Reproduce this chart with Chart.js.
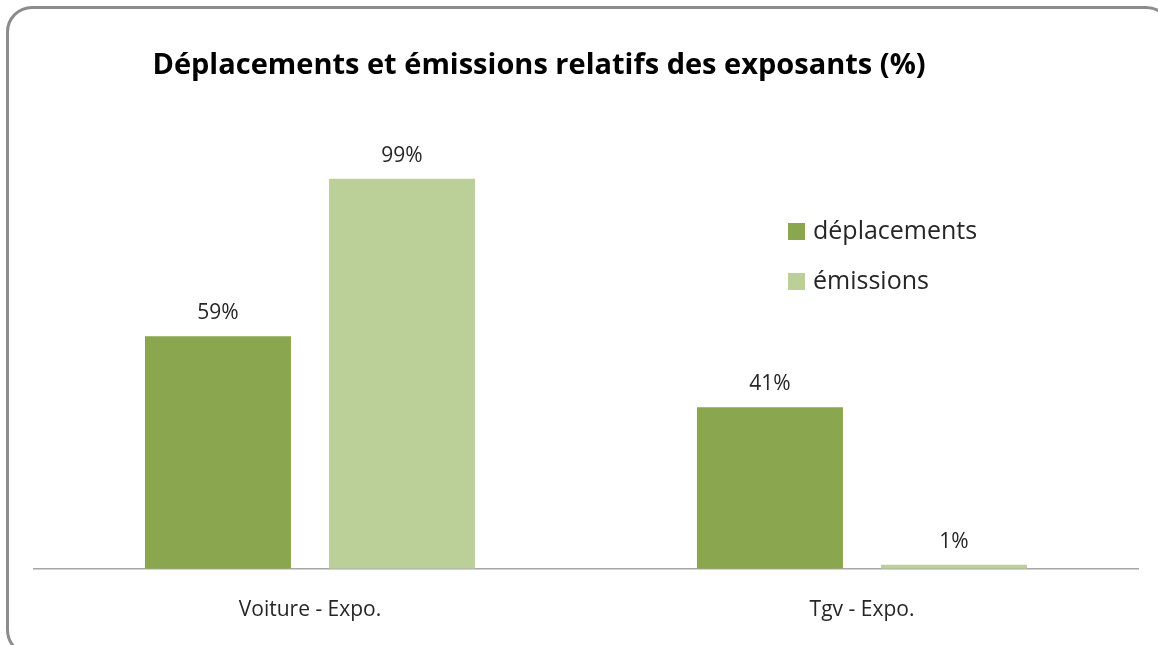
<!DOCTYPE html>
<html>
<head>
<meta charset="utf-8">
<script src="https://cdn.jsdelivr.net/npm/chart.js@4.4.0/dist/chart.umd.min.js"></script>
<style>
  html, body { margin:0; padding:0; background:#fff; overflow:hidden; }
  #wrap { position:relative; width:1158px; height:645px; overflow:hidden; }
  #frame { position:absolute; left:6px; top:6px; width:1166px; height:650px; border:3px solid #8c8c8c; border-radius:26px; box-sizing:border-box; }
  canvas { position:absolute; left:0; top:0; }
</style>
</head>
<body>
<div id="wrap">
  <div id="frame"></div>
  <canvas id="chart" width="1158" height="660"></canvas>
</div>
<script>
// data
const categories = ['Voiture - Expo.', 'Tgv - Expo.'];
const deplacements = [59, 41];
const emissions    = [99, 1];
const seriesNames  = ['déplacements', 'émissions'];
const TITLE = 'Déplacements et émissions relatifs des exposants (%)';

const DARK  = '#8aa64f';
const LIGHT = '#bbcf98';
const FONT  = '"Open Sans", "Noto Sans", sans-serif';

// title, value labels and legend, drawn on the canvas
const extras = {
  id: 'extras',
  afterDatasetsDraw(chart) {
    const ctx = chart.ctx;
    ctx.save();
    // value labels
    ctx.fillStyle = '#262626';
    ctx.font = '21px ' + FONT;
    ctx.textAlign = 'center';
    ctx.textBaseline = 'middle';
    chart.data.datasets.forEach((ds, di) => {
      chart.getDatasetMeta(di).data.forEach((bar, i) => {
        ctx.fillText(ds.data[i] + '%', bar.x, bar.y - 23);
      });
    });
    // title
    ctx.fillStyle = '#000';
    ctx.font = 'bold 29px ' + FONT;
    ctx.fillText(TITLE, 539, 66);
    // legend
    ctx.textAlign = 'left';
    ctx.font = '25px ' + FONT;
    chart.data.datasets.forEach((ds, di) => {
      const y = 232 + di * 50;
      ctx.fillStyle = ds.backgroundColor;
      ctx.fillRect(788, y - 9, 17, 17);
      ctx.fillStyle = '#262626';
      ctx.fillText(ds.label, 813, y);
    });
    ctx.restore();
  }
};

new Chart(document.getElementById('chart'), {
  type: 'bar',
  data: {
    labels: categories,
    datasets: [
      { label: seriesNames[0], data: deplacements, backgroundColor: DARK },
      { label: seriesNames[1], data: emissions, backgroundColor: LIGHT }
    ]
  },
  options: {
    responsive: false,
    animation: false,
    categoryPercentage: 0.667,
    barPercentage: 0.793,
    layout: { padding: { left: 34, right: 20, top: 96, bottom: 8 } },
    plugins: { legend: { display: false }, title: { display: false }, tooltip: { enabled: false } },
    scales: {
      x: {
        grid: { display: false, drawTicks: false },
        border: { display: true, color: '#a6a6a6', width: 1.5 },
        ticks: { color: '#262626', font: { family: FONT, size: 21 }, padding: 29 }
      },
      y: { display: false, min: 0, max: 120 }
    }
  },
  plugins: [extras]
});
</script>
</body>
</html>
